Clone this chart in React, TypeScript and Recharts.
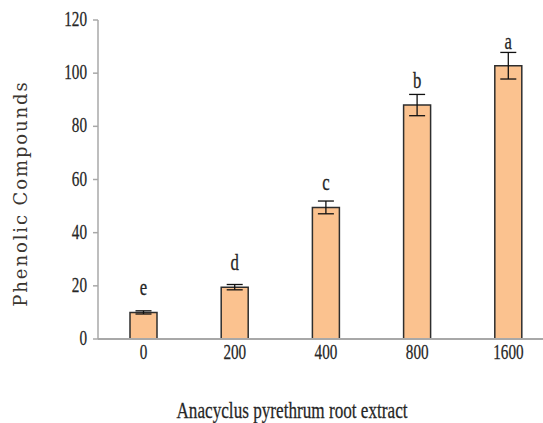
import React from "react";
import { BarChart, Bar, XAxis, YAxis, ErrorBar, LabelList, Label } from "recharts";

const doses = ["0", "200", "400", "800", "1600"];
const phenolic = [10, 19.5, 49.5, 88, 102.8];
const errors = [0.6, 1, 2.4, 4, 5];
const letters = ["e", "d", "c", "b", "a"];
const yTicks = [0, 20, 40, 60, 80, 100, 120];

const data = doses.map((d, i) => ({ dose: d, value: phenolic[i], err: errors[i], letter: letters[i] }));

const serif = "'Liberation Serif', 'Times New Roman', serif";
const ink = "#262626";
const axisGray = "#a8a8a8";

function SquishText({ x, y, size, anchor, children, sx = 0.78, sy = 1.08, fill = ink }: any) {
  return (
    <text
      transform={`translate(${x},${y}) scale(${sx},${sy})`}
      textAnchor={anchor}
      fontFamily={serif}
      fontSize={size}
      fill={fill}
      stroke={fill}
      strokeWidth={0.25}
    >
      {children}
    </text>
  );
}

const XTick = ({ x, y, payload }: any) => (
  <SquishText x={x} y={y + 12} size={20} anchor="middle" sx={0.76}>
    {payload.value}
  </SquishText>
);

const YTick = ({ x, y, payload }: any) => (
  <SquishText x={x - 4} y={y + 6} size={20} anchor="end" sx={0.76}>
    {payload.value}
  </SquishText>
);

const LetterLabel = ({ x, y, width, value }: any) => (
  <SquishText x={x + width / 2} y={y - 17} size={22} anchor="middle" sx={0.76}>
    {value}
  </SquishText>
);

export default function App() {
  return (
    <div style={{ position: "absolute", left: 0, top: 0, width: 543, height: 423, overflow: "hidden", background: "#fff" }}>
      <BarChart
        width={554}
        height={423}
        data={data}
        margin={{ top: 20, right: 0, left: 0, bottom: 0 }}
        barCategoryGap={0}
      >
        <XAxis
          dataKey="dose"
          height={84}
          axisLine={{ stroke: axisGray, strokeWidth: 2 }}
          tickLine={false}
          tick={<XTick />}
        >
          <Label
            content={({ viewBox }: any) => (
              <SquishText x={viewBox.x + 194} y={viewBox.y + 79} size={22} anchor="middle" sx={0.78}>
                Anacyclus pyrethrum root extract
              </SquishText>
            )}
          />
        </XAxis>
        <YAxis
          width={98}
          domain={[0, 120]}
          ticks={yTicks}
          interval={0}
          axisLine={{ stroke: axisGray, strokeWidth: 1.5 }}
          tickLine={{ stroke: axisGray, strokeWidth: 1.5 }}
          tickSize={5}
          tick={<YTick />}
        >
          <Label
            content={({ viewBox }: any) => (
              <text
                transform={`translate(27,${viewBox.y + viewBox.height / 2 + 14}) rotate(-90)`}
                textAnchor="middle"
                fontFamily="'DejaVu Serif', serif"
                fontSize={18}
                letterSpacing={1.9}
                fill="#3a3530"
              >
                Phenolic  Compounds
              </text>
            )}
          />
        </YAxis>
        <Bar dataKey="value" fill="#fbc28f" stroke="#2e2e2e" strokeWidth={1.5} barSize={27} isAnimationActive={false}>
          <ErrorBar dataKey="err" width={8} stroke="#111" strokeWidth={1.3} />
          <LabelList dataKey="letter" content={<LetterLabel />} />
        </Bar>
      </BarChart>
    </div>
  );
}
